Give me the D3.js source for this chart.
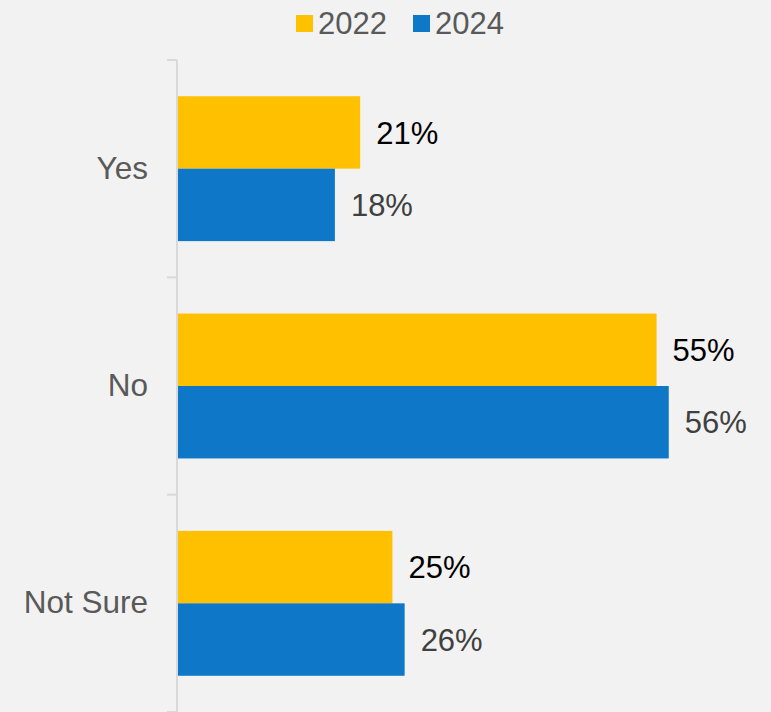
<!DOCTYPE html>
<html>
<head>
<meta charset="utf-8">
<script src="https://cdn.jsdelivr.net/npm/d3@7"></script>
<style>
  html, body { margin: 0; padding: 0; background: #f2f2f2; }
  svg { display: block; font-family: "Liberation Sans", Arial, sans-serif; }
</style>
</head>
<body>
<svg id="chart" width="771" height="712"></svg>
<script>
const categories = ["Yes", "No", "Not Sure"];
const seriesNames = ["2022", "2024"];
const values2022 = [0.209, 0.549, 0.246];
const values2024 = [0.180, 0.563, 0.260];
const seriesColors = ["#ffc000", "#0f77c8"];
const labelColors = ["#000000", "#404040"];

const W = 771, H = 712;
const svg = d3.select("#chart");
svg.append("rect").attr("width", W).attr("height", H).attr("fill", "#f2f2f2");

const axisX = 177;
const x = d3.scaleLinear().domain([0, 0.6]).range([178, 701]);
const y = d3.scaleBand().domain(categories).range([60, 712]).paddingInner(0).paddingOuter(0);
const sub = d3.scaleBand().domain(seriesNames).range([0, y.bandwidth()]).paddingInner(0).paddingOuter(0.5);

const data = categories.map((c, i) => ({ cat: c, vals: [values2022[i], values2024[i]] }));

// axis
const axisG = svg.append("g").attr("transform", `translate(${axisX},0)`);
const yAxis = d3.axisLeft(y).tickSize(0).tickPadding(29).tickFormat(d => d);
axisG.call(yAxis);
axisG.select(".domain").remove();
axisG.selectAll("text").attr("font-size", 31.5).attr("fill", "#595959")
  .attr("font-family", "Liberation Sans, Arial, sans-serif");
// vertical line and boundary ticks
svg.append("line").attr("x1", axisX).attr("x2", axisX).attr("y1", 60).attr("y2", 712)
  .attr("stroke", "#d9d9d9").attr("stroke-width", 2);
const bounds = categories.map(c => y(c)).concat([y.range()[1]]);
svg.selectAll(".btick").data(bounds).enter().append("line")
  .attr("x1", axisX - 10).attr("x2", axisX).attr("y1", d => d).attr("y2", d => d)
  .attr("stroke", "#d9d9d9").attr("stroke-width", 2);

// bars
const groups = svg.selectAll(".grp").data(data).enter().append("g")
  .attr("transform", d => `translate(0,${y(d.cat)})`);
groups.selectAll("rect").data(d => d.vals.map((v, j) => ({ v, j }))).enter().append("rect")
  .attr("x", x(0))
  .attr("y", d => sub(seriesNames[d.j]))
  .attr("width", d => x(d.v) - x(0))
  .attr("height", sub.bandwidth())
  .attr("fill", d => seriesColors[d.j]);
groups.selectAll("text.val").data(d => d.vals.map((v, j) => ({ v, j }))).enter().append("text")
  .attr("class", "val")
  .attr("x", d => x(d.v) + 16)
  .attr("y", d => sub(seriesNames[d.j]) + sub.bandwidth() / 2)
  .attr("dy", "0.36em")
  .attr("font-size", 31)
  .attr("fill", d => labelColors[d.j])
  .text(d => Math.round(d.v * 100) + "%");

// legend
const legendItems = [{ name: "2022", x: 296 }, { name: "2024", x: 413 }];
const lg = svg.append("g");
legendItems.forEach((it, i) => {
  lg.append("rect").attr("x", it.x).attr("y", 15).attr("width", 17).attr("height", 17)
    .attr("fill", seriesColors[i]);
  lg.append("text").attr("x", it.x + 22).attr("y", 34).attr("font-size", 31)
    .attr("fill", "#595959").text(it.name);
});
</script>
</body>
</html>
